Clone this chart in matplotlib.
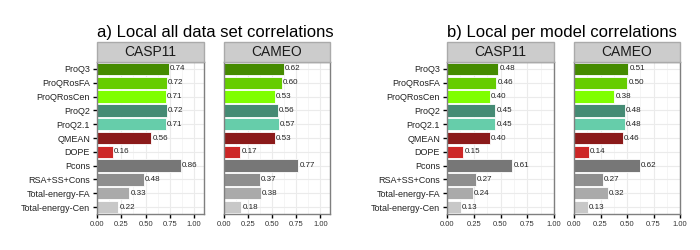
import matplotlib
matplotlib.use("Agg")
from matplotlib import pyplot as plt
from matplotlib.patches import Rectangle

plt.rcParams['font.family'] = ['Liberation Sans', 'DejaVu Sans']

# dados
metodos = ["ProQ3", "ProQRosFA", "ProQRosCen", "ProQ2", "ProQ2.1", "QMEAN", "DOPE",
           "Pcons", "RSA+SS+Cons", "Total-energy-FA", "Total-energy-Cen"]
cores = ["#458B00", "#66CD00", "#7FFF00", "#458B74", "#66CDAA", "#8B1A1A", "#CD2626",
         "#777777", "#8E8E8E", "#AAAAAA", "#C8C8C8"]

titulos = ["a) Local all data set correlations", "b) Local per model correlations"]
paineis = ["CASP11", "CAMEO"]

todos_casp11 = [0.74, 0.72, 0.71, 0.72, 0.71, 0.56, 0.16, 0.86, 0.48, 0.33, 0.22]
todos_cameo = [0.62, 0.60, 0.53, 0.56, 0.57, 0.53, 0.17, 0.77, 0.37, 0.38, 0.18]
modelo_casp11 = [0.48, 0.46, 0.40, 0.45, 0.45, 0.40, 0.15, 0.61, 0.27, 0.24, 0.13]
modelo_cameo = [0.51, 0.50, 0.38, 0.48, 0.48, 0.46, 0.14, 0.62, 0.27, 0.32, 0.13]

valores = [[todos_casp11, todos_cameo], [modelo_casp11, modelo_cameo]]
xlims = [1.1, 1.0]
xticks = [0, 0.25, 0.5, 0.75, 1.0]
xticklabels = ["0.00", "0.25", "0.50", "0.75", "1.00"]

W, H = 700, 250
fig = plt.figure(figsize=(7, 2.5), dpi=100)

# posicoes em pixels (esquerda, direita) de cada painel
xs = [[(97, 204), (224, 330)], [(447, 554), (574, 680)]]
topo, base, faixa = 62, 214, 20

n = len(metodos)
ypos = list(range(n))

for g in range(2):
    for p in range(2):
        x0, x1 = xs[g][p]
        ax = fig.add_axes([x0 / W, 1 - base / H, (x1 - x0) / W, (base - topo) / H])
        vals = valores[g][p]
        ax.barh(ypos, vals, height=0.9, color=cores, edgecolor="white", linewidth=0.6, zorder=2)
        for y, v in zip(ypos, vals):
            ax.text(v + 0.012, y, "%.2f" % v, va="center", ha="left", fontsize=5.8, color="#222222")
        ax.set_xlim(0, xlims[g])
        ax.set_ylim(n - 0.5, -0.5)
        ax.set_xticks(xticks)
        ax.set_xticklabels(xticklabels, fontsize=5.5, color="#333333")
        ax.set_xticks([0.125, 0.375, 0.625, 0.875], minor=True)
        ax.set_yticks(ypos)
        ax.tick_params(axis="both", which="major", length=3, width=1, color="black", pad=2)
        ax.tick_params(axis="x", which="minor", length=0)
        if p == 0:
            ax.set_yticklabels(metodos, fontsize=6.5, color="#222222")
        else:
            ax.set_yticklabels([])
            ax.tick_params(axis="y", length=0)
        ax.grid(which="major", color="#EBEBEB", linewidth=0.8, zorder=0)
        ax.grid(which="minor", axis="x", color="#F4F4F4", linewidth=0.6, zorder=0)
        ax.set_axisbelow(True)
        for s in ax.spines.values():
            s.set_color("#7F7F7F")
            s.set_linewidth(1)
        # faixa do painel
        fig.patches.append(Rectangle((x0 / W, 1 - topo / H), (x1 - x0) / W, faixa / H,
                                     transform=fig.transFigure, facecolor="#CCCCCC",
                                     edgecolor="#AAAAAA", linewidth=1))
        fig.text((x0 + x1) / 2 / W, 1 - (topo - faixa / 2) / H, paineis[p],
                 ha="center", va="center", fontsize=10, color="#1A1A1A")
    fig.text(xs[g][0][0] / W, 1 - 32 / H, titulos[g], ha="left", va="center", fontsize=12)

plt.savefig("out.png", dpi=100)
plt.close()
